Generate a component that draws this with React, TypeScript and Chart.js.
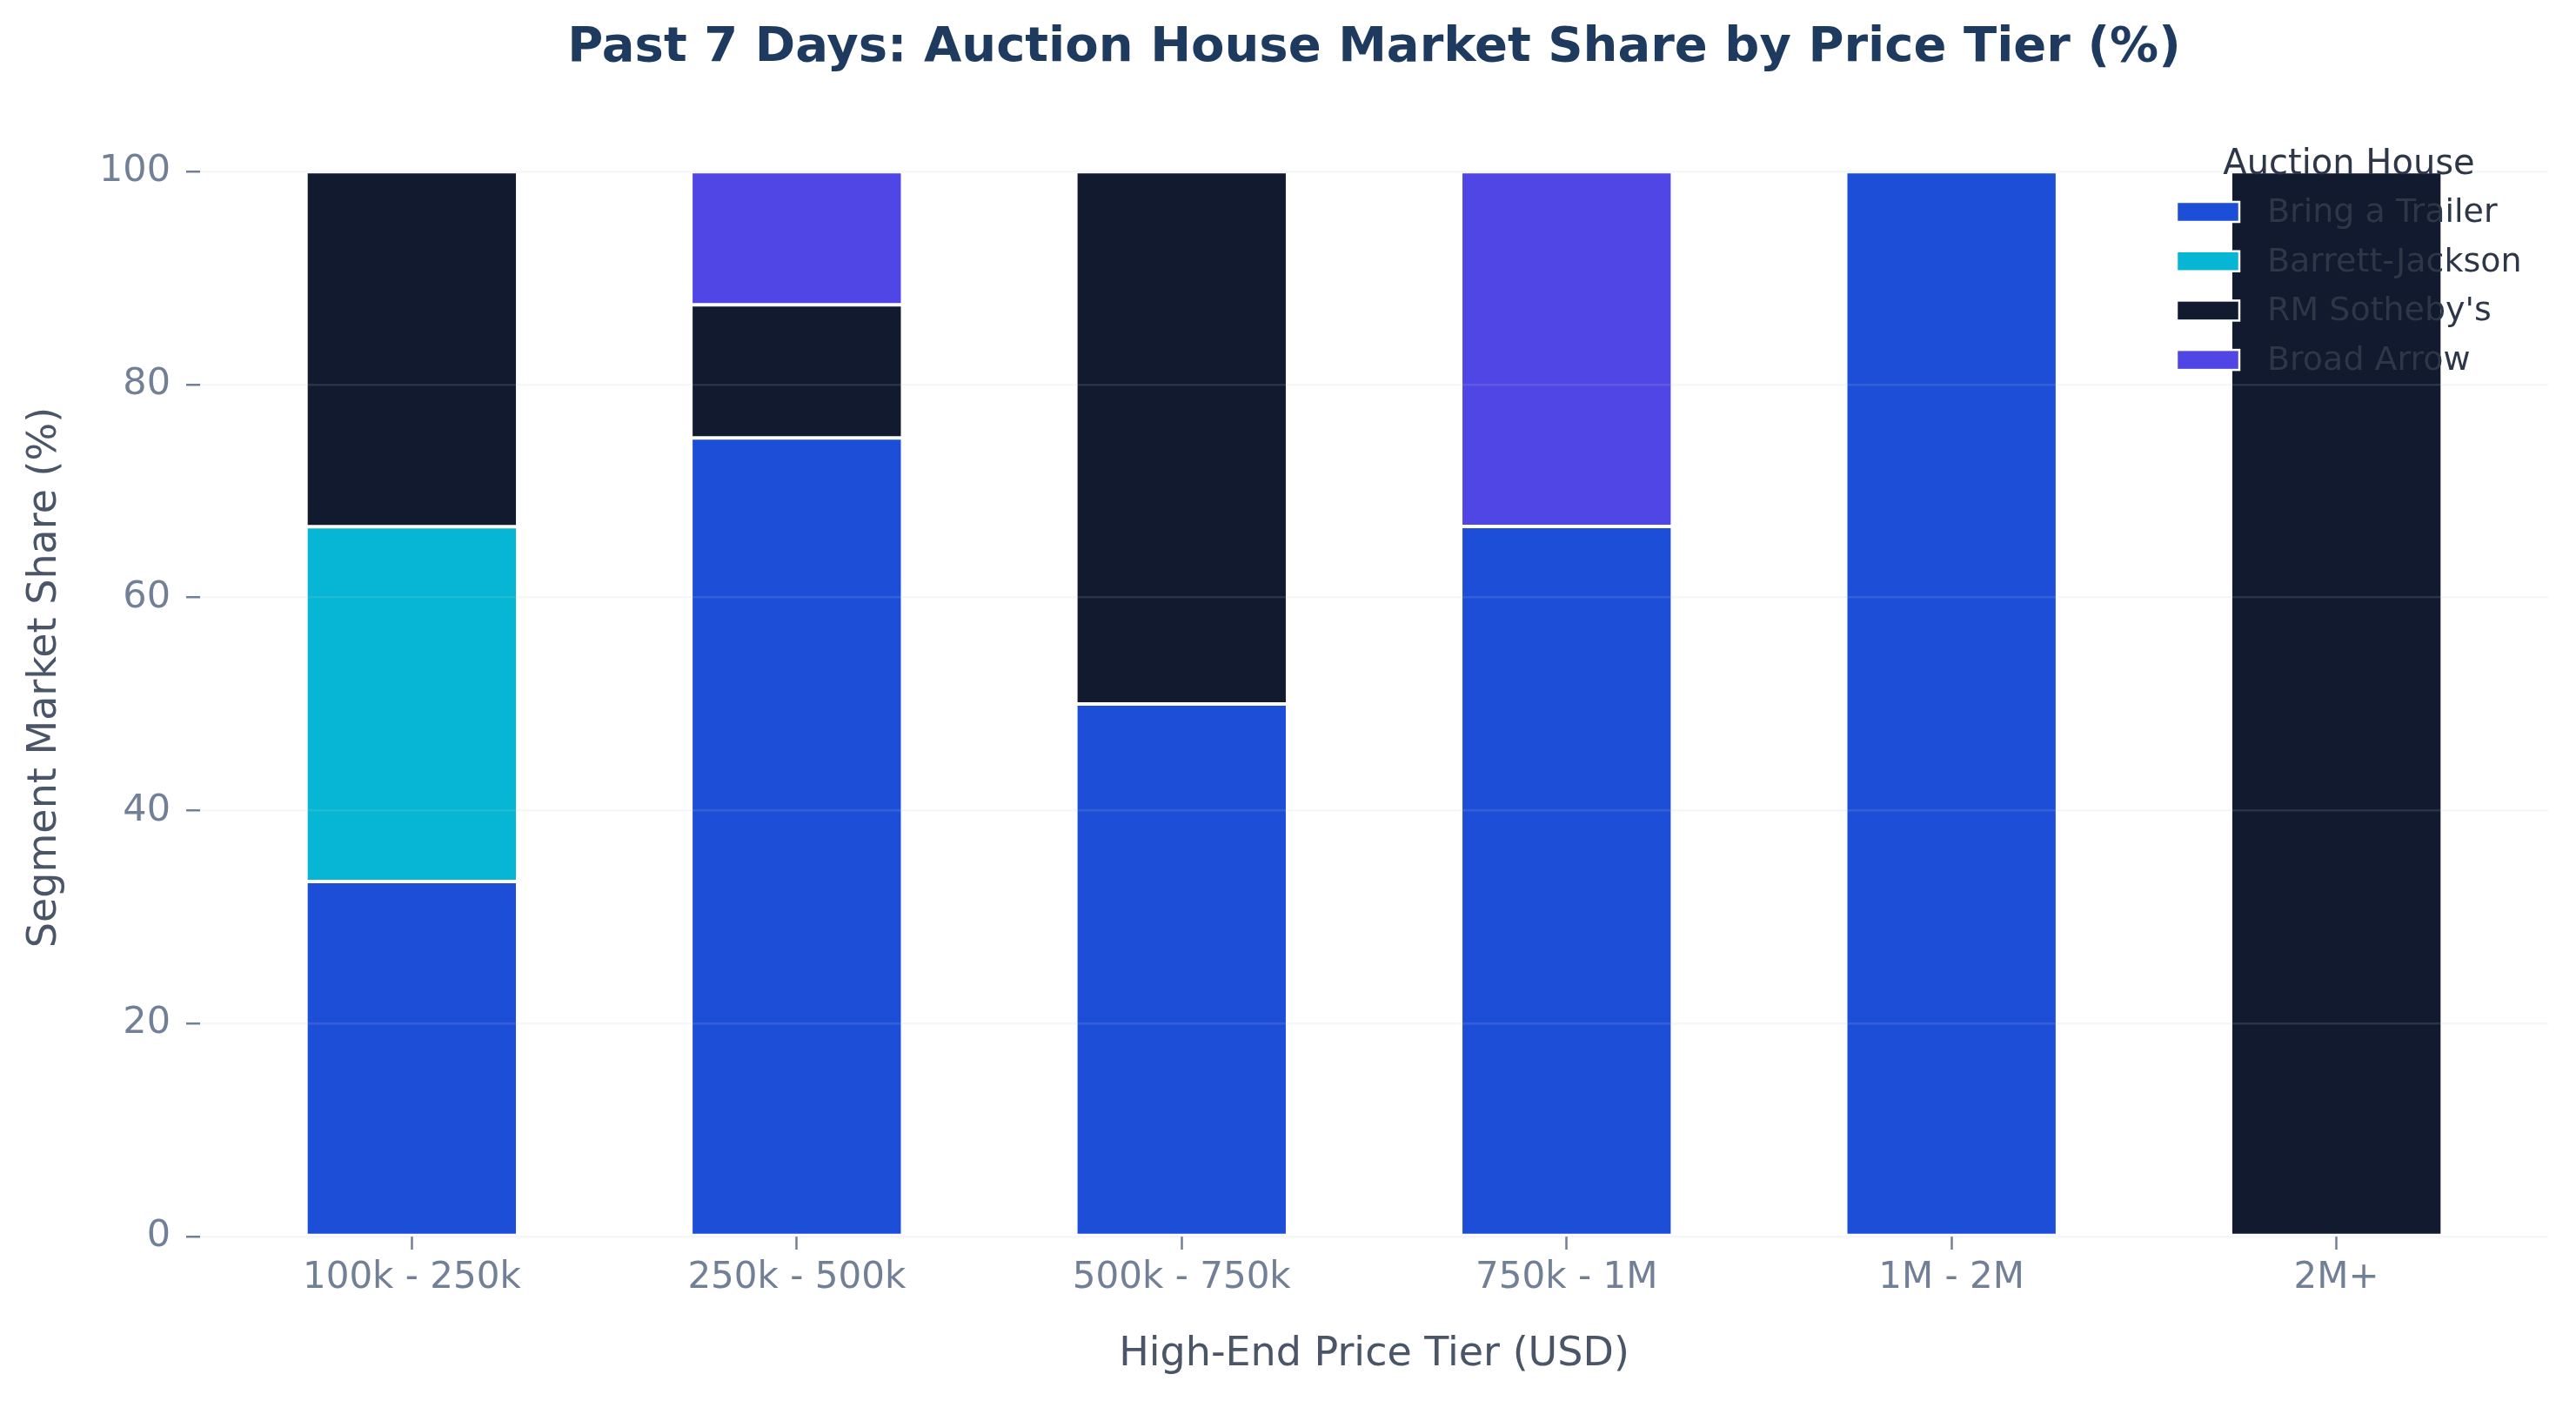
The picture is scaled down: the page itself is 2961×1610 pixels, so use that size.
import { useEffect, useRef } from 'react';
import { Chart, registerables, type ChartConfiguration, type Plugin } from 'chart.js';

Chart.register(...registerables);

const TIERS = ['100k - 250k', '250k - 500k', '500k - 750k', '750k - 1M', '1M - 2M', '2M+'];
const HOUSES = ['Bring a Trailer', 'Barrett-Jackson', "RM Sotheby's", 'Broad Arrow'];
const BRING_A_TRAILER = [33.33, 75, 50, 66.67, 100, 0];
const BARRETT_JACKSON = [33.33, 0, 0, 0, 0, 0];
const RM_SOTHEBYS = [33.34, 12.5, 50, 0, 0, 100];
const BROAD_ARROW = [0, 12.5, 0, 33.33, 0, 0];
const Y_TICKS = [0, 20, 40, 60, 80, 100];

const COLORS = ['#1d4ed8', '#06b6d4', '#111a2e', '#4f46e5'];
const FONT = "'DejaVu Sans', sans-serif";
const TICK_COLOR = '#718096';
const LABEL_COLOR = '#4a5568';

const W = 2961;
const H = 1610;

// matplotlib-style legend inside the axes, upper right
const houseLegend: Plugin<'bar'> = {
  id: 'houseLegend',
  afterDraw(chart) {
    const ctx = chart.ctx;
    ctx.save();
    ctx.fillStyle = '#2d3748';
    ctx.textBaseline = 'alphabetic';
    ctx.textAlign = 'center';
    ctx.font = `40px ${FONT}`;
    ctx.fillText('Auction House', 2700, 200);
    ctx.textAlign = 'left';
    ctx.font = `38px ${FONT}`;
    chart.data.datasets.forEach((ds, i) => {
      const base = 255 + i * 56.7;
      ctx.fillStyle = ds.backgroundColor as string;
      ctx.fillRect(2502, base - 23, 72, 23);
      ctx.strokeStyle = '#ffffff';
      ctx.lineWidth = 2.5;
      ctx.strokeRect(2502, base - 23, 72, 23);
      ctx.fillStyle = '#2d3748';
      ctx.fillText(ds.label as string, 2606, base);
    });
    ctx.restore();
  },
};

export default function App() {
  const canvasRef = useRef<HTMLCanvasElement>(null);
  const chartRef = useRef<Chart | null>(null);

  useEffect(() => {
    if (!canvasRef.current) return;
    const series = [BRING_A_TRAILER, BARRETT_JACKSON, RM_SOTHEBYS, BROAD_ARROW];

    const config: ChartConfiguration<'bar'> = {
      type: 'bar',
      data: {
        datasets: series.map((values, i) => ({
          label: HOUSES[i],
          data: values.map((v, x) => ({ x, y: v })) as any,
          backgroundColor: COLORS[i],
          borderColor: '#ffffff',
          borderWidth: 2,
          borderSkipped: false,
          categoryPercentage: 1,
          barPercentage: 0.55,
        })),
      },
      options: {
        responsive: false,
        animation: false,
        devicePixelRatio: 1,
        events: [],
        layout: { padding: { left: 0, top: 0, bottom: 0, right: 32 } },
        plugins: {
          legend: { display: false },
          tooltip: { enabled: false },
          title: {
            display: true,
            fullSize: false,
            text: 'Past 7 Days: Auction House Market Share by Price Tier (%)',
            color: '#1e3a5f',
            font: { family: FONT, size: 56, weight: 'bold' },
            padding: { top: 22, bottom: 46.8 },
          },
        },
        scales: {
          x: {
            type: 'linear',
            stacked: true,
            offset: false,
            min: -0.55,
            max: 5.55,
            afterBuildTicks: (scale) => {
              scale.ticks = TIERS.map((_, i) => ({ value: i }));
            },
            afterFit: (scale) => {
              scale.height = 189;
            },
            border: { display: false },
            grid: {
              display: true,
              offset: false,
              drawOnChartArea: false,
              color: 'rgba(0,0,0,0)',
              tickColor: TICK_COLOR,
              tickLength: 15,
              tickWidth: 2.5,
            },
            ticks: {
              autoSkip: false,
              maxRotation: 0,
              padding: 8,
              color: TICK_COLOR,
              font: { family: FONT, size: 42 },
              callback: (v) => TIERS[Number(v)] ?? '',
            },
            title: {
              display: true,
              text: 'High-End Price Tier (USD)',
              color: LABEL_COLOR,
              font: { family: FONT, size: 46 },
              padding: { top: 0, bottom: 25 },
            },
          },
          y: {
            stacked: true,
            min: 0,
            max: 105,
            afterBuildTicks: (scale) => {
              scale.ticks = Y_TICKS.map((value) => ({ value }));
            },
            afterFit: (scale) => {
              scale.width = 230;
            },
            border: { display: false },
            grid: {
              z: 1,
              color: 'rgba(190,200,215,0.15)',
              lineWidth: 2.5,
              tickColor: TICK_COLOR,
              tickLength: 16,
              tickWidth: 2.5,
            },
            ticks: {
              padding: 18,
              color: TICK_COLOR,
              font: { family: FONT, size: 43 },
            },
            title: {
              display: true,
              text: 'Segment Market Share (%)',
              color: LABEL_COLOR,
              font: { family: FONT, size: 46 },
              padding: { top: 24, bottom: 0 },
            },
          },
        },
      },
      plugins: [houseLegend],
    };

    chartRef.current = new Chart(canvasRef.current, config);
    return () => { chartRef.current?.destroy(); chartRef.current = null; };
  }, []);

  return (
    <div style={{ position: 'fixed', left: 0, top: 0, width: W, height: H, background: '#ffffff' }}>
      <canvas ref={canvasRef} width={W} height={H} style={{ width: W, height: H }} aria-label="Past 7 Days: Auction House Market Share by Price Tier (%)" role="img" />
    </div>
  );
}
